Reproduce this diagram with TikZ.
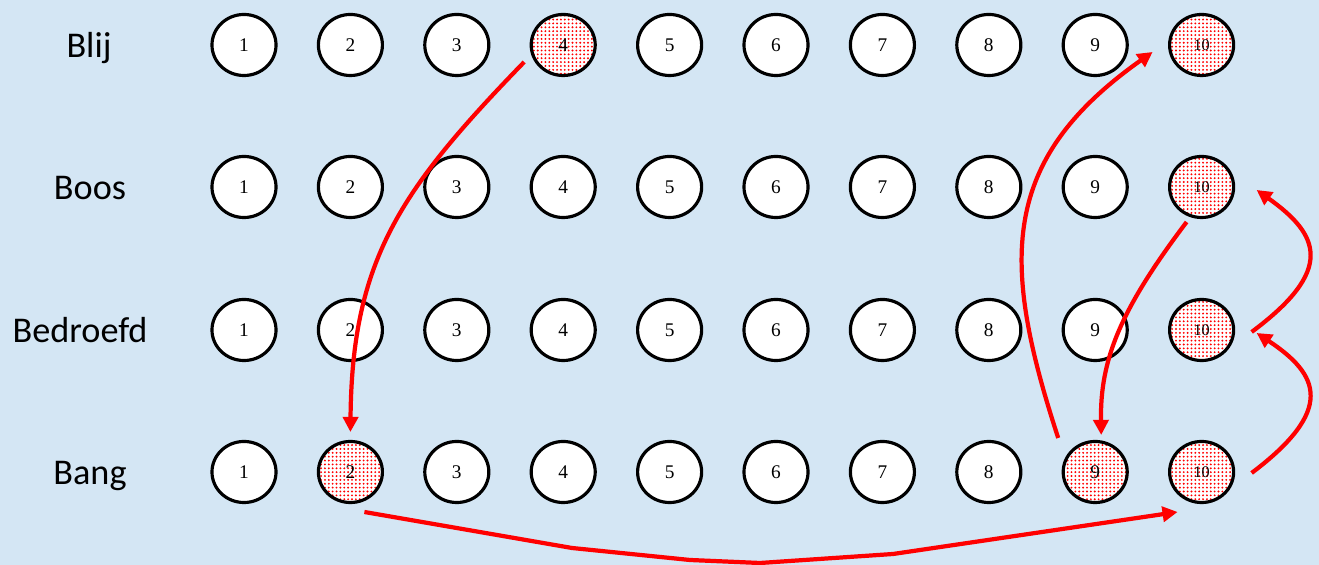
\documentclass[tikz,border=0pt]{standalone}
\usepackage{fontspec}
\setmainfont{Liberation Serif}
\newfontfamily\moodfont{Carlito}
\usetikzlibrary{arrows.meta,shapes.geometric,patterns.meta,calc}
\definecolor{skyback}{HTML}{D4E6F4}
\definecolor{moodred}{HTML}{FF0000}

\tikzset{
  score/.style={ellipse,draw=black,line width=0.9pt,fill=white,minimum width=0.64cm,minimum height=0.61cm,inner sep=0pt,font=\fontsize{5.5}{6}\selectfont},
  picked/.style={preaction={fill=white},pattern={Dots[distance=1.1pt,radius=0.3pt]},pattern color=moodred},
  mood/.style={font=\moodfont\fontsize{10.3}{12}\selectfont,anchor=base},
  jump/.style={-{Triangle[length=4.3pt,width=4.3pt]},moodred,line width=1.2pt},
  sel/blij4/.style={picked}, sel/blij10/.style={picked},
  sel/boos10/.style={picked}, sel/bedroefd10/.style={picked},
  sel/bang2/.style={picked}, sel/bang9/.style={picked}, sel/bang10/.style={picked},
}

\begin{document}
\begin{tikzpicture}[x=0.01cm,y=-0.01cm]
\fill[skyback] (0,0) rectangle (1319,565);
\useasboundingbox (0,0) rectangle (1319,565);

% row labels
\node[mood] (lblij) at (89,58) {Blij};
\node[mood] (lboos) at (90,200) {Boos};
\node[mood] (lbedroefd) at (80,343) {Bedroefd};
\node[mood] (lbang) at (90,485) {Bang};

% scores 1..10 per row
\foreach \row/\ry in {blij/45,boos/187,bedroefd/330,bang/472}{
  \foreach \k in {1,...,10}{
    \node[score,sel/\row\k/.try] (\row\k) at ({244+106.4*(\k-1)},\ry) {\ifnum\k=10 \fontsize{4.6}{5}\selectfont\fi\k};
  }
}

% moves between scores
\draw[jump] ($(blij4)+(-39,17)$) .. controls (400,190) and (352,260) .. ($(bang2)+(0,-40)$);
\draw[jump] ($(bang9)+(-37,-34)$) .. controls (1000,260) and (1000,160) .. ($(blij10)+(-49,7)$);
\draw[jump] ($(boos10)+(-15,35)$) .. controls (1120,310) and (1100,360) .. ($(bang9)+(6,-37)$);
\draw[jump] ($(bedroefd10)+(50,2)$) .. controls (1335,270) and (1320,235) .. ($(boos10)+(55,3)$);
\draw[jump] ($(bang10)+(50,1)$) .. controls (1335,410) and (1320,375) .. ($(bedroefd10)+(55,3)$);
\draw[jump] ($(bang2)+(14,40)$) -- (572,548) -- (690,560) -- (760,563) -- (893,554) -- ($(bang10)+(-24,40)$);
\end{tikzpicture}
\end{document}
